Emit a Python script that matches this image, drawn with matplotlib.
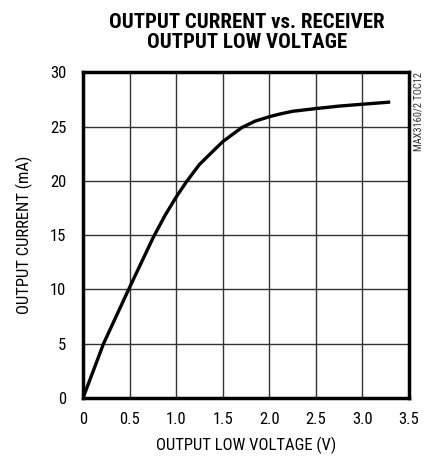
import matplotlib.pyplot as plt

# curve (volts, mA)
v_out = [0.0, 0.22, 0.49, 0.755, 0.88, 1.0, 1.11, 1.25, 1.5, 1.705, 1.85, 2.0, 2.115,
         2.25, 2.5, 2.75, 3.0, 3.3]
i_out = [0.0, 5.0, 10.0, 14.8, 16.8, 18.5, 19.9, 21.5, 23.6, 24.9, 25.5, 25.9, 26.15,
         26.4, 26.65, 26.88, 27.05, 27.25]

x_ticks = [0, 0.5, 1.0, 1.5, 2.0, 2.5, 3.0, 3.5]
x_labels = ['0', '0.5', '1.0', '1.5', '2.0', '2.5', '3.0', '3.5']
y_ticks = [0, 5, 10, 15, 20, 25, 30]

plt.rcParams['font.family'] = ['Roboto Condensed', 'DejaVu Sans']

fig = plt.figure(figsize=(4.29, 4.57), dpi=100)
ax = fig.add_axes([0.1935, 0.129, 0.7595, 0.713])

ax.plot(v_out, i_out, color='black', linewidth=2.4, solid_capstyle='butt',
        solid_joinstyle='round')

ax.set_xlim(0, 3.5)
ax.set_ylim(0, 30)
ax.set_xticks(x_ticks)
ax.set_xticklabels(x_labels)
ax.set_yticks(y_ticks)
ax.tick_params(length=0, labelsize=12)
ax.tick_params(axis='x', pad=10)
ax.tick_params(axis='y', pad=12)
ax.grid(True, color='#333333', linewidth=1.0)
for s in ax.spines.values():
    s.set_linewidth(2.5)

ax.set_xlabel('OUTPUT LOW VOLTAGE (V)', fontsize=12, labelpad=7)
ax.set_ylabel('OUTPUT CURRENT (mA)', fontsize=12, labelpad=12)

fig.text(0.576, 0.972, 'OUTPUT CURRENT vs. RECEIVER\nOUTPUT LOW VOLTAGE', ha='center', va='top',
         fontsize=15, fontweight='bold', linespacing=1.05)
fig.text(0.975, 0.842, 'MAX3160/2 TOC12', rotation=90, ha='center', va='top', fontsize=7.5,
         color='#333333')

fig.savefig('out.png', dpi=100)
